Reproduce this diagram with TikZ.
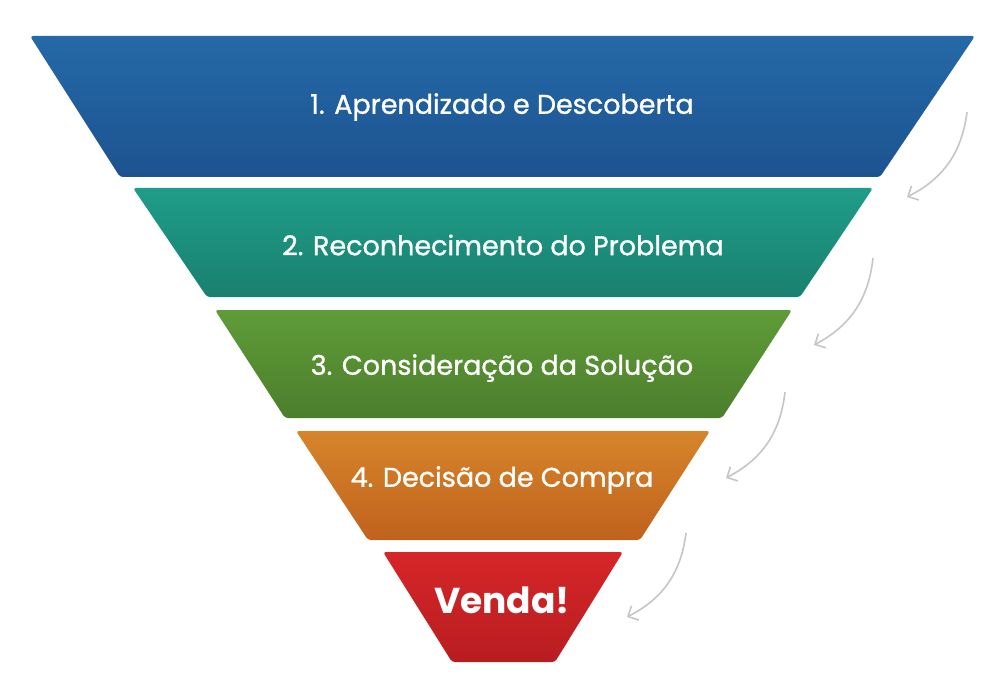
\documentclass[tikz,border=0pt]{standalone}
\usepackage{fontspec}
\setmainfont{Poppins}
\newfontfamily\medfont{Poppins}[FakeBold=1.1]
\usetikzlibrary{arrows.meta}
\definecolor{b1t}{HTML}{2569A7}\definecolor{b1b}{HTML}{1C5390}
\definecolor{b2t}{HTML}{1F9D8A}\definecolor{b2b}{HTML}{19806E}
\definecolor{b3t}{HTML}{5F9C38}\definecolor{b3b}{HTML}{4C7E2C}
\definecolor{b4t}{HTML}{D6852B}\definecolor{b4b}{HTML}{C0621D}
\definecolor{b5t}{HTML}{D62628}\definecolor{b5b}{HTML}{B81D21}
\definecolor{arr}{HTML}{C6C6C6}
\tikzset{
  band/.style={rounded corners=3pt},
  lbl/.style={text=white, font=\medfont\fontsize{27}{30}\selectfont, anchor=center, inner sep=0pt},
  bigl/.style={text=white, font=\bfseries\fontsize{36}{40}\selectfont, anchor=center, inner sep=0pt},
  flow/.style={draw=arr, line width=1.6pt, -{Straight Barb[length=8pt,width=16pt,line width=1.6pt]}, bend left=28},
}
\begin{document}
\begin{tikzpicture}[x=1pt,y=-1pt]
\useasboundingbox (0,0) rectangle (1006,676);
\fill[white] (0,0) rectangle (1006,676);
% bands
\shade[band, top color=b1t, bottom color=b1b] (30,36) -- (975,36) -- (880,177) -- (120,177) -- cycle;
\shade[band, top color=b2t, bottom color=b2b] (133,188) -- (873,188) -- (800,297) -- (207,297) -- cycle;
\shade[band, top color=b3t, bottom color=b3b] (215,310) -- (792,310) -- (722,418) -- (285,418) -- cycle;
\shade[band, top color=b4t, bottom color=b4b] (296,431) -- (710,431) -- (640,540) -- (368,540) -- cycle;
\shade[band, top color=b5t, bottom color=b5b] (383,552) -- (623,552) -- (555,662) -- (452,662) -- cycle;
% labels
\node[lbl] (t1) at (502,107) {1. Aprendizado e Descoberta};
\node[lbl] (t2) at (503,245) {2. Reconhecimento do Problema};
\node[lbl] (t3) at (502,368) {3. Consideração da Solução};
\node[lbl] (t4) at (502,480) {4. Decisão de Compra};
\node[bigl] (t5) at (502,600) {Venda!};
% arrows
\coordinate (s1) at (967,112); \coordinate (e1) at (907,197);
\coordinate (s2) at (873,258); \coordinate (e2) at (814,345);
\coordinate (s3) at (785,392); \coordinate (e3) at (726,478);
\coordinate (s4) at (686,533); \coordinate (e4) at (627,617);
\draw[flow] (s1) to (e1);
\draw[flow] (s2) to (e2);
\draw[flow] (s3) to (e3);
\draw[flow] (s4) to (e4);
\end{tikzpicture}
\end{document}
